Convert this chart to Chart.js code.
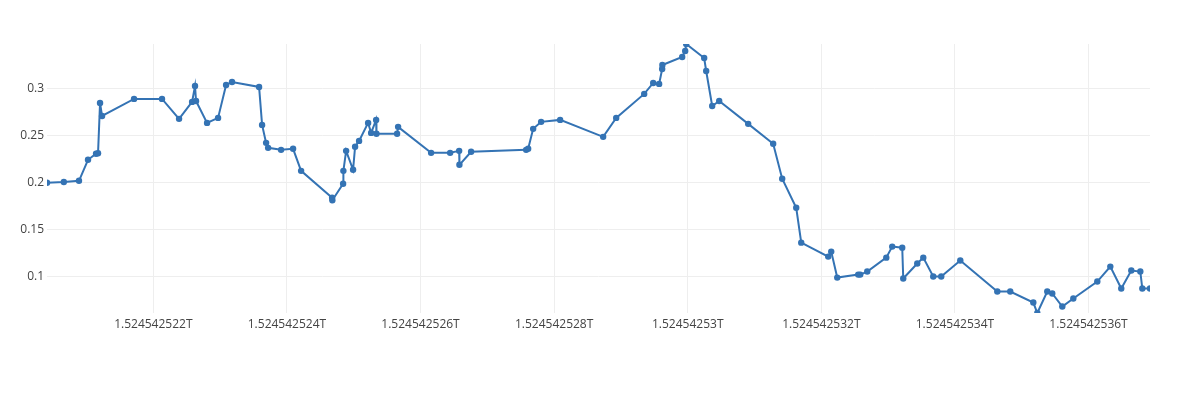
<!DOCTYPE html>
<html>
<head>
<meta charset="utf-8">
<script src="https://cdn.jsdelivr.net/npm/chart.js@4"></script>
<style>
  body { margin: 0; background: #fff; }
  canvas { display: block; }
</style>
</head>
<body>
<canvas id="grafico" width="1200" height="398"></canvas>
<script>
// timestamps (ms)
const tiempos = [
    1524542520408, 1524542520660, 1524542520887, 1524542521022, 1524542521142,
    1524542521172, 1524542521202, 1524542521232, 1524542521711, 1524542522130,
    1524542522385, 1524542522580, 1524542522624, 1524542522639, 1524542522804,
    1524542522969, 1524542523089, 1524542523178, 1524542523583, 1524542523628,
    1524542523688, 1524542523718, 1524542523912, 1524542524092, 1524542524212,
    1524542524676, 1524542524680, 1524542524841, 1524542524845, 1524542524886,
    1524542524990, 1524542525020, 1524542525080, 1524542525215, 1524542525260,
    1524542525335, 1524542525340, 1524542525649, 1524542525664, 1524542526158,
    1524542526443, 1524542526578, 1524542526582, 1524542526757, 1524542527581,
    1524542527611, 1524542527686, 1524542527805, 1524542528090, 1524542528734,
    1524542528929, 1524542529348, 1524542529483, 1524542529572, 1524542529617,
    1524542529620, 1524542529917, 1524542529962, 1524542529977, 1524542530246,
    1524542530276, 1524542530366, 1524542530471, 1524542530905, 1524542531279,
    1524542531414, 1524542531624, 1524542531699, 1524542532103, 1524542532148,
    1524542532238, 1524542532552, 1524542532582, 1524542532687, 1524542532972,
    1524542533061, 1524542533211, 1524542533226, 1524542533436, 1524542533526,
    1524542533675, 1524542533795, 1524542534080, 1524542534634, 1524542534828,
    1524542535173, 1524542535233, 1524542535382, 1524542535457, 1524542535607,
    1524542535772, 1524542536131, 1524542536326, 1524542536490, 1524542536640,
    1524542536775, 1524542536805, 1524542536920
];

const valores = [
    0.1996, 0.2005, 0.2017, 0.2240, 0.2304,
    0.2309, 0.2844, 0.2706, 0.2887, 0.2887,
    0.2675, 0.2855, 0.3024, 0.2865, 0.2632,
    0.2685, 0.3035, 0.3067, 0.3014, 0.2611,
    0.2420, 0.2367, 0.2346, 0.2357, 0.2123,
    0.1837, 0.1811, 0.1986, 0.2123, 0.2335,
    0.2134, 0.2378, 0.2441, 0.2632, 0.2526,
    0.2664, 0.2516, 0.2516, 0.2590, 0.2314,
    0.2314, 0.2335, 0.2187, 0.2325, 0.2346,
    0.2357, 0.2569, 0.2643, 0.2664, 0.2484,
    0.2685, 0.2940, 0.3056, 0.3046, 0.3205,
    0.3247, 0.3332, 0.3395, 0.3470, 0.3321,
    0.3183, 0.2812, 0.2865, 0.2622, 0.2410,
    0.2039, 0.1731, 0.1360, 0.1212, 0.1265,
    0.0989, 0.1021, 0.1021, 0.1053, 0.1201,
    0.1318, 0.1307, 0.0979, 0.1138, 0.1201,
    0.1000, 0.1000, 0.1170, 0.0841, 0.0841,
    0.0724, 0.0613, 0.0841, 0.0820, 0.0682,
    0.0767, 0.0947, 0.1106, 0.0873, 0.1064,
    0.1053, 0.0873, 0.0873
];

const ticksX = [
    1524542522000, 1524542524000, 1524542526000, 1524542528000,
    1524542530000, 1524542532000, 1524542534000, 1524542536000
];
const ticksY = [0.1, 0.15, 0.2, 0.25, 0.3];

const fuente = { family: '"Open Sans", "Liberation Sans", sans-serif', size: 12 };
const azul = '#3473b4';

const puntos = tiempos.map((t, i) => ({ x: t, y: valores[i] }));

new Chart(document.getElementById('grafico'), {
    type: 'line',
    data: {
        datasets: [{
            data: puntos,
            borderColor: azul,
            backgroundColor: azul,
            borderWidth: 2,
            pointRadius: 3.2,
            pointBorderWidth: 0,
            pointHoverRadius: 3.2,
            tension: 0,
            clip: 0
        }]
    },
    options: {
        responsive: false,
        animation: false,
        layout: { padding: { left: 0, top: 44, right: 50, bottom: 65 } },
        plugins: { legend: { display: false }, tooltip: { enabled: false } },
        scales: {
            x: {
                type: 'linear',
                min: Math.min(...tiempos),
                max: Math.max(...tiempos),
                afterBuildTicks: s => { s.ticks = ticksX.map(v => ({ value: v })); },
                afterFit: s => { s.height = 20; },
                grid: { color: '#eeeeee', drawTicks: false },
                border: { display: false },
                ticks: {
                    font: fuente,
                    color: '#444',
                    padding: 4,
                    maxRotation: 0,
                    autoSkip: false,
                    callback: v => parseFloat((v / 1e12).toFixed(9)) + 'T'
                }
            },
            y: {
                min: Math.min(...valores),
                max: Math.max(...valores),
                afterBuildTicks: s => { s.ticks = ticksY.map(v => ({ value: v })); },
                afterFit: s => { s.width = 47; },
                grid: { color: '#eeeeee', drawTicks: false },
                border: { display: false },
                ticks: {
                    font: fuente,
                    color: '#444',
                    padding: 3,
                    callback: v => String(parseFloat(v.toFixed(2)))
                }
            }
        }
    }
});
</script>
</body>
</html>
